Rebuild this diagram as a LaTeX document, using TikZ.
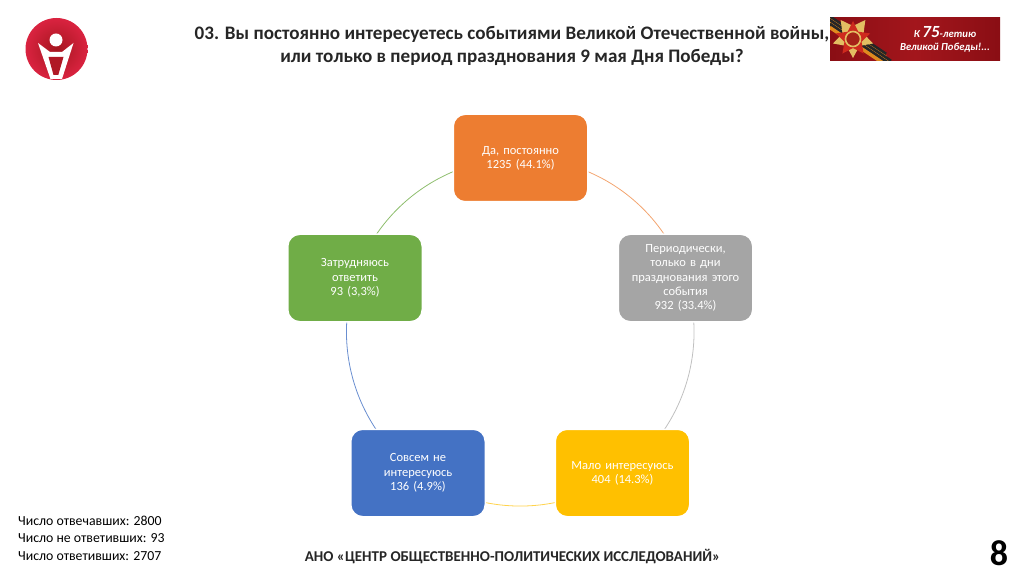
\documentclass[tikz,border=0pt]{standalone}
\usepackage{fontspec}
\setmainfont{Carlito}
\usetikzlibrary{shapes.geometric}
\pgfdeclarelayer{back}
\pgfsetlayers{back,main}
\definecolor{cOrange}{HTML}{ED7D31}
\definecolor{cGray}{HTML}{A5A5A5}
\definecolor{cYellow}{HTML}{FFC000}
\definecolor{cBlue}{HTML}{4472C4}
\definecolor{cGreen}{HTML}{70AD47}
\definecolor{cRed}{HTML}{DA2340}
\definecolor{cDark}{HTML}{A5161F}
\definecolor{cBanner}{HTML}{8A0E14}
\definecolor{cBannerMid}{HTML}{A3161C}
\definecolor{cGold}{HTML}{E3BE62}
\definecolor{cStripe}{HTML}{E08A1E}
\definecolor{cStarRed}{HTML}{CE2A1E}
\definecolor{cInk}{HTML}{262626}
\tikzset{
  x=1pt,y=1pt,
  card/.style={rectangle,rounded corners=12pt,fill=#1,draw=white,line width=1.5pt,
    minimum width=134.5pt,minimum height=87.5pt,inner sep=0pt,align=center,
    text width=122pt,text=white,font=\fontsize{12.5}{14.2}\selectfont},
  arc/.style={line width=0.8pt,looseness=0.94},
  note/.style={anchor=west,inner sep=0pt,text=black,font=\fontsize{13.8}{16}\selectfont},
  head/.style={align=center,inner sep=0pt,text=cInk,font=\fontsize{19.1}{23}\selectfont\bfseries},
}
\begin{document}
\begin{tikzpicture}
\useasboundingbox (0,0) rectangle (1024,576);
% logo
\node[circle,inner color=cDark,outer color=cRed,minimum size=62pt,inner sep=0pt] (logo) at (56.5,527) {};
\fill[white] (38,533) -- (50,524) -- (62,524) -- (73.5,533) -- (62,497) -- (50.5,497) -- cycle;
\fill[cDark!80!cRed] (48.5,519) -- (63.5,519) -- (58.3,501) -- (53.5,501) -- cycle;
\node[circle,fill=white,minimum size=13pt,inner sep=0pt] (logohead) at (56,536) {};
% banner
\node[rectangle,left color=cBanner,right color=cBanner,middle color=cBannerMid,minimum width=170pt,minimum height=43pt,inner sep=0pt] (banner) at (915,536.5) {};
\begin{scope}
\clip (830,515) rectangle (1000,558);
\foreach \d in {0,7,14}{
  \draw[black!85,line width=3pt] ({820+\d*0.7},{566-\d}) -- ({886+\d*0.7},{522-\d});
  \draw[cStripe,line width=3.4pt] ({820+\d*0.7},{562.5-\d}) -- ({886+\d*0.7},{518.5-\d});
}
\end{scope}
\node[star,star points=5,star point ratio=1.9,shape border rotate=180,fill=cGold,minimum size=42pt,inner sep=0pt] (starback) at (853,539) {};
\node[star,star points=5,star point ratio=2.0,fill=cStarRed,minimum size=36pt,inner sep=0pt] (starfront) at (853,537) {};
\node[circle,fill=cStarRed!80!black,draw=cGold,line width=1.6pt,minimum size=15pt,inner sep=0pt] (starcore) at (853,537) {};
\node[inner sep=0pt,text=white,align=center,font=\fontsize{10.7}{13.5}\selectfont\bfseries\itshape] (bannertext) at (945,536.5)
  {К {\fontsize{17}{13.5}\selectfont 75}-летию\\Великой Победы!...};
% title
\node[head] (title) at (512,530) {03. Вы постоянно интересуетесь событиями Великой Отечественной войны,\\или только в период празднования 9 мая Дня Победы?};
% cards
\node[card=cOrange] (a) at (520.5,418) {Да, постоянно\\1235 (44.1\%)};
\node[card=cGray] (b) at (685.5,298) {Периодически,\\только в дни\\празднования этого\\события\\932 (33.4\%)};
\node[card=cYellow] (c) at (622.5,103) {Мало интересуюсь\\404 (14.3\%)};
\node[card=cBlue] (d) at (418,103) {Совсем не\\интересуюсь\\136 (4.9\%)};
\node[card=cGreen] (e) at (355,298) {Затрудняюсь\\ответить\\93 (3,3\%)};
% connectors
\begin{pgfonlayer}{back}
\draw[arc,cOrange!70!white] (a.center) to[out=0,in=108] (b.center);
\draw[arc,cGray!70!white] (b.center) to[out=-72,in=36] (c.center);
\draw[arc,cYellow!70!white] (c.center) to[out=-144,in=-36] (d.center);
\draw[arc,cBlue!80!white] (d.center) to[out=144,in=252] (e.center);
\draw[arc,cGreen!80!white] (e.center) to[out=72,in=180] (a.center);
\end{pgfonlayer}
% notes
\node[note] (n1) at (18,55) {Число отвечавших: 2800};
\node[note] (n2) at (18,38) {Число не ответивших: 93};
\node[note] (n3) at (18,20) {Число ответивших: 2707};
\node[inner sep=0pt,text=cInk,font=\fontsize{15}{18}\selectfont\bfseries] (org) at (512.5,19.5) {АНО «ЦЕНТР ОБЩЕСТВЕННО-ПОЛИТИЧЕСКИХ ИССЛЕДОВАНИЙ»};
\node[inner sep=0pt,text=black,font=\fontsize{36}{36}\selectfont\bfseries] (page) at (999,23) {8};
\end{tikzpicture}
\end{document}
